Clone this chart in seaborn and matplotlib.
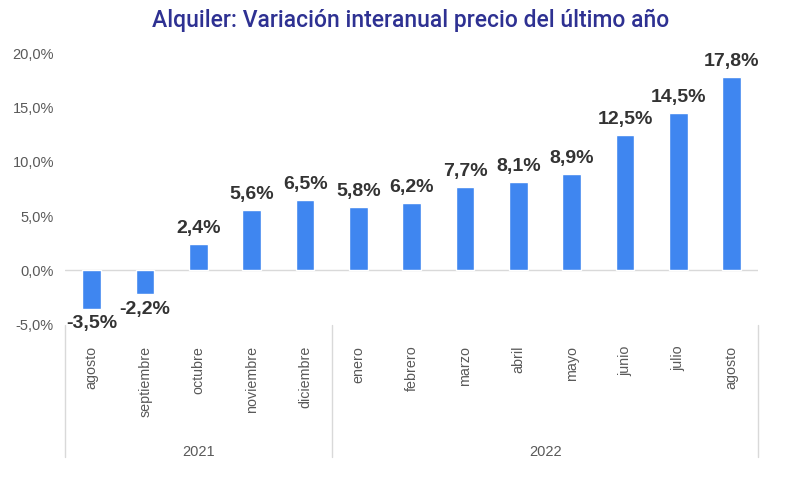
import matplotlib
matplotlib.use("Agg")
import matplotlib.pyplot as plt
import matplotlib.transforms as mtransforms
import seaborn as sns
import pandas as pd

months = ["agosto", "septiembre", "octubre", "noviembre", "diciembre",
          "enero", "febrero", "marzo", "abril", "mayo", "junio", "julio", "agosto"]
years = ["2021"] * 5 + ["2022"] * 8
values = [-3.5, -2.2, 2.4, 5.6, 6.5, 5.8, 6.2, 7.7, 8.1, 8.9, 12.5, 14.5, 17.8]
yticks = [-5, 0, 5, 10, 15, 20]

sns.set_style("white")
plt.rcParams['font.family'] = ['Liberation Sans', 'DejaVu Sans']

df = pd.DataFrame({"key": [f"{m} {y}" for m, y in zip(months, years)],
                   "value": values})

fig = plt.figure(figsize=(7.98, 4.87), dpi=100)
ax = fig.add_axes([0.0815, 0.333, 0.869, 0.558])
sns.barplot(data=df, x="key", y="value", color="#3f86f0", width=0.35,
            saturation=1, ax=ax)

ax.set_ylim(-5, 20)
ax.set_xlim(-0.5, len(values) - 0.5)
ax.set_yticks(yticks)
ax.set_yticklabels([f"{t:.1f}".replace(".", ",") + "%" for t in yticks],
                   fontsize=10.5, color="#595959")
ax.set_xticks(range(len(months)))
ax.set_xticklabels(months, rotation=90, fontsize=10.3, color="#595959", va="top")
ax.tick_params(axis="x", length=0, pad=15)
ax.tick_params(axis="y", length=0, pad=8)
ax.set_xlabel("")
ax.set_ylabel("")
for s in ax.spines.values():
    s.set_visible(False)
ax.axhline(0, color="#d9d9d9", lw=1, zorder=0)

labels = [f"{v:.1f}".replace(".", ",") + "%" for v in values]
ax.bar_label(ax.containers[0], labels=labels, padding=5, fontsize=14,
             fontweight="bold", color="#333333")

trans = mtransforms.blended_transform_factory(ax.transData, ax.transAxes)
for xpos in [-0.5, 4.5, 12.5]:
    ax.plot([xpos, xpos], [0, -0.485], transform=trans, color="#d9d9d9",
            lw=1, clip_on=False)
groups = [("2021", 2.0), ("2022", 8.5)]
for lab, xc in groups:
    ax.text(xc, -0.468, lab, transform=trans, ha="center", va="center",
            fontsize=10.5, color="#595959")

fig.text(0.514, 0.958, "Alquiler: Variación interanual precio del último año",
         ha="center", va="center", fontsize=16.5, color="#2e3192",
         fontweight="medium",
         family=["Liberation Sans Narrow", "Roboto", "DejaVu Sans"])

fig.savefig("out.png", dpi=100)
